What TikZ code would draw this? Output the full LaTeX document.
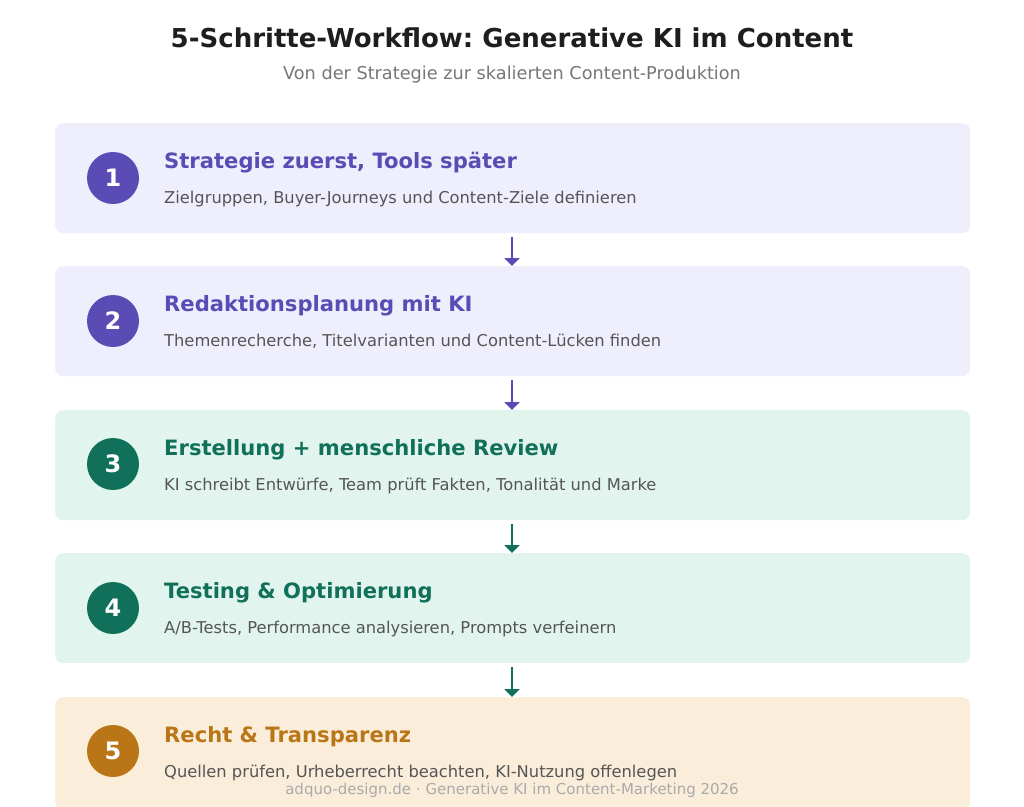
\documentclass[tikz,border=0pt]{standalone}
\usepackage{fontspec}
\setmainfont{DejaVu Sans}
\frenchspacing
\usetikzlibrary{arrows.meta}
\definecolor{purp}{HTML}{5A4BB5}
\definecolor{purpfill}{HTML}{EFEEFD}
\definecolor{grn}{HTML}{11705A}
\definecolor{grnfill}{HTML}{E1F5EE}
\definecolor{org}{HTML}{BA7517}
\definecolor{orgfill}{HTML}{FAEEDA}
\definecolor{bodytxt}{HTML}{555555}
\definecolor{titletxt}{HTML}{1E1E1E}
\definecolor{subtxt}{HTML}{777777}
\definecolor{foottxt}{HTML}{AAAAAA}
\tikzset{
  stepbox/.style={rectangle, rounded corners=8pt, minimum width=915pt, minimum height=110pt, inner sep=0pt, draw=none, anchor=north west},
  numcirc/.style={circle, minimum size=52pt, inner sep=0pt, text=white, font=\fontsize{24}{28}\selectfont\bfseries},
  steptitle/.style={anchor=base west, inner sep=0pt, font=\fontsize{21.1}{25}\selectfont\bfseries},
  stepdesc/.style={anchor=base west, inner sep=0pt, text=bodytxt, font=\fontsize{16.3}{19}\selectfont},
  flow/.style={line width=2.6pt, -{Triangle[width=15pt,length=8pt]}, shorten <=4pt}
}
\begin{document}
\begin{tikzpicture}[x=1pt,y=-1pt]
\path[use as bounding box, fill=white] (0,0) rectangle (1024,806);
\node[anchor=base, inner sep=0pt, text=titletxt, font=\fontsize{26}{30}\selectfont\bfseries] (title) at (512,47) {5-Schritte-Workflow: Generative KI im Content};
\node[anchor=base, inner sep=0pt, text=subtxt, font=\fontsize{17.7}{21}\selectfont] (subtitle) at (512,79) {Von der Strategie zur skalierten Content-Produktion};

\node[stepbox, fill=purpfill] (b1) at (55,123) {};
\node[stepbox, fill=purpfill] (b2) at (55,266) {};
\node[stepbox, fill=grnfill] (b3) at (55,410) {};
\node[stepbox, fill=grnfill] (b4) at (55,553) {};
\node[stepbox, fill=orgfill, minimum height=112pt] (b5) at (55,697) {};

\node[numcirc, fill=purp] (c1) at (113,178) {1};
\node[numcirc, fill=purp] (c2) at (113,321) {2};
\node[numcirc, fill=grn] (c3) at (113,464) {3};
\node[numcirc, fill=grn] (c4) at (113,608) {4};
\node[numcirc, fill=org] (c5) at (113,751) {5};

\node[steptitle, text=purp] (t1) at (164,168) {Strategie zuerst, Tools später};
\node[stepdesc] (d1) at (164,203) {Zielgruppen, Buyer-Journeys und Content-Ziele definieren};
\node[steptitle, text=purp] (t2) at (164,311) {Redaktionsplanung mit KI};
\node[stepdesc] (d2) at (164,346) {Themenrecherche, Titelvarianten und Content-Lücken finden};
\node[steptitle, text=grn] (t3) at (164,455) {Erstellung + menschliche Review};
\node[stepdesc] (d3) at (164,490) {KI schreibt Entwürfe, Team prüft Fakten, Tonalität und Marke};
\node[steptitle, text=grn] (t4) at (164,598) {Testing \& Optimierung};
\node[stepdesc] (d4) at (164,633) {A/B-Tests, Performance analysieren, Prompts verfeinern};
\node[steptitle, text=org] (t5) at (164,742) {Recht \& Transparenz};
\node[stepdesc] (d5) at (164,777) {Quellen prüfen, Urheberrecht beachten, KI-Nutzung offenlegen};

\node[anchor=base, inner sep=0pt, text=foottxt, font=\fontsize{15}{18}\selectfont] (footer) at (512,794) {adquo-design.de · Generative KI im Content-Marketing 2026};

\draw[flow, purp] (b1.south -| 512,0) -- (b2.north -| 512,0);
\draw[flow, purp] (b2.south -| 512,0) -- (b3.north -| 512,0);
\draw[flow, grn] (b3.south -| 512,0) -- (b4.north -| 512,0);
\draw[flow, grn] (b4.south -| 512,0) -- (b5.north -| 512,0);
\end{tikzpicture}
\end{document}
